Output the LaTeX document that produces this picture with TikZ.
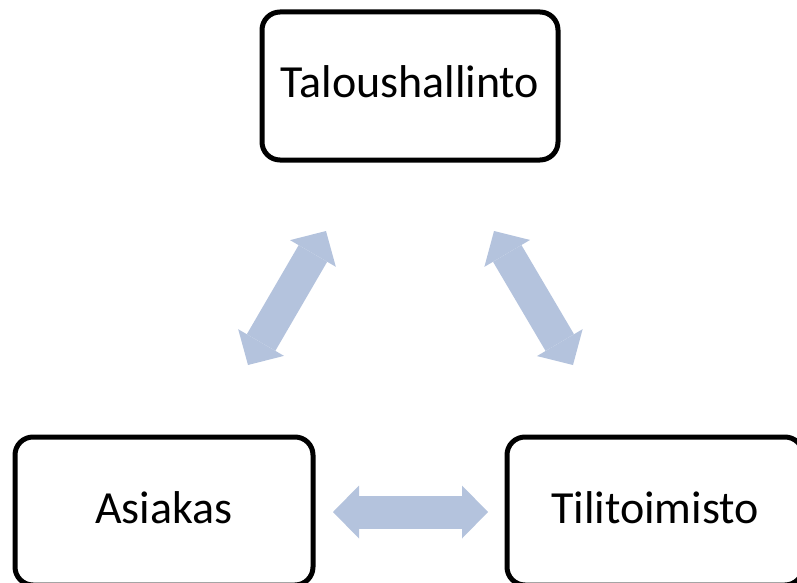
\documentclass[tikz,border=0pt]{standalone}
\usepackage{fontspec}
\setmainfont{Carlito}
\usetikzlibrary{arrows.meta}
\definecolor{arrowblue}{RGB}{180,195,221}
\tikzset{
  box/.style={draw=black, line width=5pt, rounded corners=18pt, fill=white,
    minimum width=296pt, minimum height=148pt, inner sep=0pt,
    text height=32pt, text depth=8pt,
    font=\fontsize{46}{54}\selectfont},
  bigtip/.tip={Triangle[width=53pt,length=26pt,line width=0pt]},
  flow/.style={draw=arrowblue, line width=33pt, bigtip-bigtip}
}
\begin{document}
\begin{tikzpicture}[x=1pt,y=-1pt]
\useasboundingbox (0,0) rectangle (797,583);
\clip (0,0) rectangle (797,583);
\node[box] (talous) at (410,86) {Taloushallinto};
\node[box, minimum width=298pt] (asiakas) at (164,511) {Asiakas};
\node[box] (tili) at (655,511) {Tilitoimisto};
\coordinate (l1) at (248,365);
\coordinate (l2) at (326,231);
\coordinate (r1) at (494,231);
\coordinate (r2) at (573,365);
\coordinate (b1) at (333,512);
\coordinate (b2) at (488,512);
\draw[flow] (l1) -- (l2);
\draw[flow] (r1) -- (r2);
\draw[flow] (b1) -- (b2);
\end{tikzpicture}
\end{document}
